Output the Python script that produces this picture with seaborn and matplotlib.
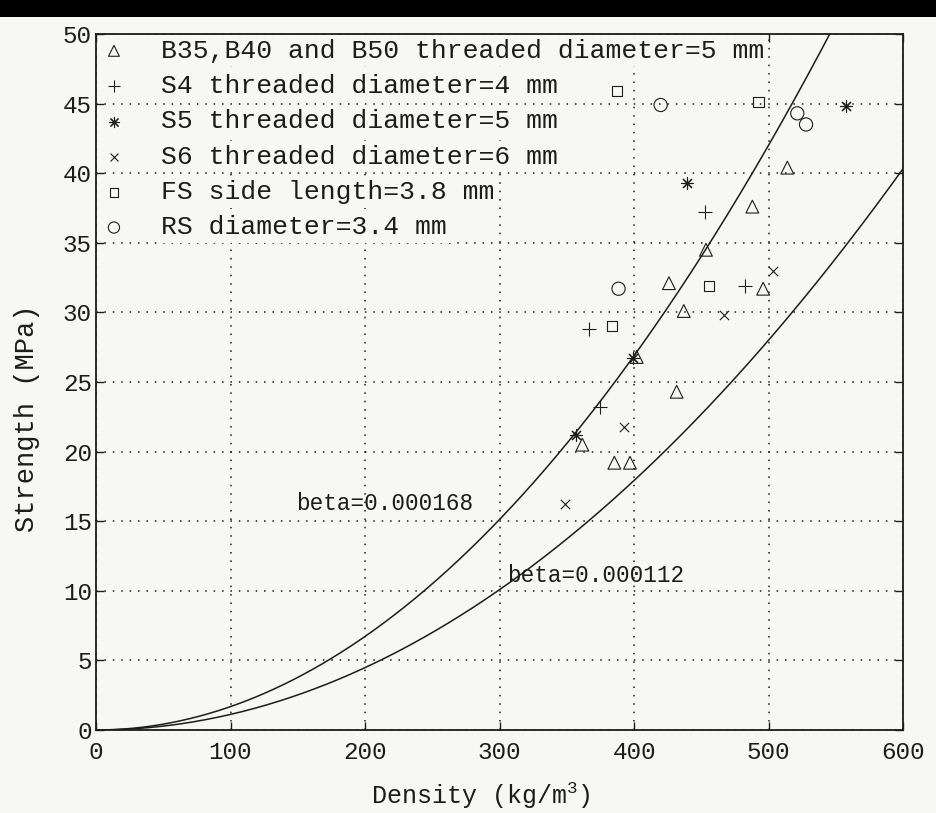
import numpy as np
import pandas as pd
import matplotlib
matplotlib.use("Agg")
import matplotlib.pyplot as plt
import seaborn as sns
from matplotlib.patches import Rectangle

# ---------------- data ----------------
tri_x = [361.6, 385.4, 397.0, 402.0, 431.7, 437.0, 426.0, 453.5, 496.0, 488.0, 514.0]
tri_y = [20.5, 19.2, 19.2, 26.8, 24.3, 30.1, 32.1, 34.5, 31.7, 37.6, 40.4]
s4_x = [366.8, 374.7, 452.8, 482.5]
s4_y = [28.8, 23.2, 37.2, 31.9]
s5_x = [356.9, 399.5, 439.6, 557.4]
s5_y = [21.2, 26.7, 39.3, 44.8]
s6_x = [348.7, 392.6, 467.0, 503.0]
s6_y = [16.2, 21.8, 29.8, 33.0]
fs_x = [383.4, 456.0, 387.6, 492.5]
fs_y = [29.0, 31.9, 45.9, 45.1]
rs_x = [388.5, 419.8, 521.4, 527.9]
rs_y = [31.7, 44.9, 44.3, 43.5]

series_labels = [
    "B35,B40 and B50 threaded diameter=5 mm",
    "S4 threaded diameter=4 mm",
    "S5 threaded diameter=5 mm",
    "S6 threaded diameter=6 mm",
    "FS side length=3.8 mm",
    "RS diameter=3.4 mm",
]
betas = [0.000168, 0.000112]
beta_labels = ["beta=0.000168", "beta=0.000112"]
beta_label_pos = [(148.7, 16.3), (305.6, 11.1)]
x_ticks = [0, 100, 200, 300, 400, 500, 600]
y_ticks = [0, 5, 10, 15, 20, 25, 30, 35, 40, 45, 50]
x_label = "Density (kg/m$^3$)"
y_label = "Strength (MPa)"

# ---------------- style ----------------
sns.set_style("ticks")
MONO = ["Liberation Mono", "DejaVu Sans Mono"]
plt.rcParams["font.family"] = MONO
plt.rcParams["mathtext.fontset"] = "custom"
plt.rcParams["mathtext.rm"] = "Liberation Mono"
plt.rcParams["mathtext.it"] = "Liberation Mono"
INK = "#1c1c1c"
PAPER = "#f7f7f5"

fig = plt.figure(figsize=(9.37, 8.13), dpi=100, facecolor=PAPER)
ax = fig.add_axes([96 / 937, 1 - 730 / 813, (903 - 96) / 937, (730 - 34) / 813])
ax.set_facecolor(PAPER)

# model curves  strength = beta * density^2
dens = np.linspace(0, 600, 601)
for b in betas:
    df = pd.DataFrame({"d": dens, "s": b * dens ** 2})
    sns.lineplot(data=df, x="d", y="s", ax=ax, color=INK, linewidth=1.1,
                 zorder=3, legend=False)

groups = [
    (tri_x, tri_y, "^", 85, True),
    (s4_x, s4_y, "+", 95, False),
    (s5_x, s5_y, (8, 2, 0), 75, False),
    (s6_x, s6_y, "x", 45, False),
    (fs_x, fs_y, "s", 55, True),
    (rs_x, rs_y, "o", 90, True),
]
handles = []
for (gx, gy, mk, sz, filled), lab in zip(groups, series_labels):
    n_before = len(ax.collections)
    if filled:
        sns.scatterplot(x=gx, y=gy, ax=ax, marker=mk, s=sz, facecolor="none",
                        edgecolor=INK, linewidth=0.8, zorder=6, label=lab)
    else:
        sns.scatterplot(x=gx, y=gy, ax=ax, marker=mk, s=sz, color=INK,
                        linewidth=0.8, zorder=6, label=lab)
    handles.append(ax.collections[n_before])

ax.set_xlim(0, 600)
ax.set_ylim(0, 50)
ax.set_xticks(x_ticks)
ax.set_yticks(y_ticks)
ax.grid(True, color=INK, linestyle=(0, (1, 4.5)), linewidth=1.1)
ax.set_axisbelow(True)
for sp in ax.spines.values():
    sp.set_visible(True)
    sp.set_linewidth(1.3)
    sp.set_color(INK)
    sp.set_zorder(7)
ax.tick_params(direction="in", length=6, width=1.0, colors=INK,
               top=True, right=True, labelsize=17.5)
ax.tick_params(axis="x", pad=8)
ax.tick_params(axis="y", pad=3)

ax.set_xlabel(x_label, fontsize=18, color=INK)
ax.set_ylabel(y_label, fontsize=19.5, color=INK)
ax.xaxis.set_label_coords(0.477, -0.072)
ax.yaxis.set_label_coords(-0.07, 0.448)

for (tx, ty), t in zip(beta_label_pos, beta_labels):
    ax.text(tx, ty, t, fontsize=16.3, color=INK, ha="left", va="center", zorder=4)

leg = ax.legend(handles, series_labels, loc="upper left", bbox_to_anchor=(0, 1),
                borderaxespad=0, borderpad=0.18, frameon=False, fontsize=19,
                handlelength=1.0, handletextpad=1.3, labelspacing=0.43,
                markerscale=0.85, scatterpoints=1)
leg.set_zorder(5)
for t in leg.get_texts():
    t.set_color(INK)
    t.set_bbox(dict(facecolor=PAPER, edgecolor="none", pad=2.5))

# scanned-page black band at the top
fig.patches.append(Rectangle((0, 1 - 17 / 813), 1, 17 / 813, transform=fig.transFigure,
                             facecolor="black", edgecolor="none", zorder=0))

fig.savefig("out.png", dpi=100, facecolor=PAPER)
